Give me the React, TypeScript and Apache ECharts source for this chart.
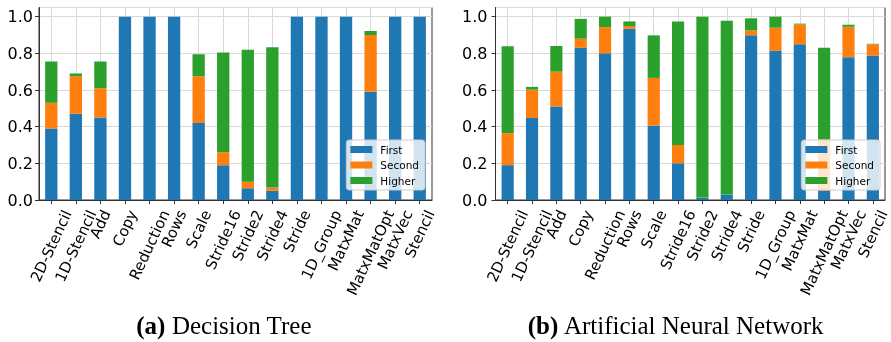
import React, { useEffect, useRef } from 'react';
import * as echarts from 'echarts';

const categories = [
  '2D-Stencil', '1D-Stencil', 'Add', 'Copy', 'Reduction', 'Rows', 'Scale', 'Stride16',
  'Stride2', 'Stride4', 'Stride', '1D_Group', 'MatxMat', 'MatxMatOpt', 'MatxVec', 'Stencil',
];
const seriesNames = ['First', 'Second', 'Higher'];

// (a) Decision Tree
const dtFirst = [0.39, 0.47, 0.45, 1, 1, 1, 0.42, 0.19, 0.064, 0.05, 1, 1, 1, 0.59, 1, 1];
const dtSecond = [0.14, 0.205, 0.16, 0, 0, 0, 0.255, 0.07, 0.036, 0.018, 0, 0, 0, 0.31, 0, 0];
const dtHigher = [0.225, 0.015, 0.145, 0, 0, 0, 0.12, 0.545, 0.72, 0.765, 0, 0, 0, 0.022, 0, 0];

// (b) Artificial Neural Network
const annFirst = [0.19, 0.447, 0.51, 0.83, 0.8, 0.934, 0.405, 0.2, 0.013, 0.03, 0.898, 0.815, 0.849, 0.05, 0.779, 0.788];
const annSecond = [0.175, 0.155, 0.19, 0.05, 0.143, 0.015, 0.261, 0.1, 0, 0, 0.027, 0.125, 0.109, 0.28, 0.166, 0.061];
const annHigher = [0.474, 0.015, 0.14, 0.108, 0.057, 0.025, 0.232, 0.673, 0.987, 0.948, 0.066, 0.06, 0.004, 0.5, 0.011, 0.003];

const yTickInterval = 0.2;
const yMax = 1.05;

const captionA = { tag: '(a)', text: 'Decision Tree' };
const captionB = { tag: '(b)', text: 'Artificial Neural Network' };

const COLORS = ['#1f77b4', '#ff7f0e', '#2ca02c'];
const ROT = 65;
const XFONT = 15;
const SANS = '"DejaVu Sans", sans-serif';
const SERIF = '"Liberation Serif", serif';

function measure(text: string, size: number): number {
  const cv = document.createElement('canvas');
  const ctx = cv.getContext('2d');
  if (!ctx) return text.length * size * 0.6;
  ctx.font = `${size}px "DejaVu Sans"`;
  return ctx.measureText(text).width;
}

export default function App() {
  const ref = useRef<HTMLDivElement>(null);

  useEffect(() => {
    if (!ref.current) return;
    const chart = echarts.init(ref.current, null, { renderer: 'svg' });
    const rad = (ROT * Math.PI) / 180;

    const grids = [
      { left: 39, right: 459, top: 7.5, bottom: 142 },
      { left: 495.5, right: 6, top: 7.5, bottom: 142 },
    ];

    const xAxes = grids.map((_, gi) => ({
      type: 'category',
      gridIndex: gi,
      data: categories,
      axisLine: { show: true, lineStyle: { color: '#333', width: 1 } },
      axisTick: { show: true, alignWithLabel: true, length: 4, lineStyle: { color: '#333' } },
      splitLine: { show: true, alignWithLabel: true, lineStyle: { color: '#d9d9d9', width: 1 } },
      axisLabel: { show: false, interval: 0 },
    }));

    const yAxes = grids.map((_, gi) => ({
      type: 'value',
      gridIndex: gi,
      min: 0,
      max: yMax,
      interval: yTickInterval,
      axisLine: { show: true, lineStyle: { color: '#333', width: 1 } },
      axisTick: { show: true, length: 4, lineStyle: { color: '#333' } },
      splitLine: { show: true, lineStyle: { color: '#d9d9d9', width: 1 } },
      axisLabel: {
        showMaxLabel: false,
        margin: gi === 0 ? 6 : 8,
        fontFamily: SANS,
        fontSize: 16,
        color: '#000',
        formatter: (v: number) => v.toFixed(1),
      },
    }));

    const sets = [
      [dtFirst, dtSecond, dtHigher],
      [annFirst, annSecond, annHigher],
    ];
    const series: any[] = [];
    sets.forEach((set, gi) => {
      set.forEach((data, si) => {
        series.push({
          type: 'bar',
          name: seriesNames[si],
          xAxisIndex: gi,
          yAxisIndex: gi,
          stack: 'g' + gi,
          barWidth: '50%',
          itemStyle: { color: COLORS[si] },
          data,
        });
      });
    });

    const legendBase = {
      orient: 'vertical',
      top: 140,
      icon: 'rect',
      itemWidth: 22,
      itemHeight: 7,
      itemGap: 4.5,
      padding: [4, 6, 4, 4],
      backgroundColor: 'rgba(255,255,255,0.8)',
      borderColor: '#cccccc',
      borderWidth: 1,
      borderRadius: 3,
      data: seriesNames,
      formatter: (n: string) => `{t|${n}}`,
      textStyle: {
        fontFamily: SANS,
        fontSize: 10.5,
        color: '#000',
        rich: { t: { fontFamily: SANS, fontSize: 10.5, color: '#000', lineHeight: 12, padding: [0, 0, 0, 3] } },
      },
    };

    const captionStyle = (cap: { tag: string; text: string }) => ({
      text: `{b|${cap.tag}}{n| ${cap.text}}`,
      align: 'center',
      verticalAlign: 'middle',
      rich: {
        b: { fontFamily: SERIF, fontSize: 25, fontWeight: 'bold', fill: '#000', color: '#000' },
        n: { fontFamily: SERIF, fontSize: 25, fill: '#000', color: '#000' },
      },
      fill: '#000',
    });

    chart.setOption({
      animation: false,
      grid: grids.map((g) => ({
        ...g,
        show: true,
        borderColor: '#333',
        borderWidth: 1,
        backgroundColor: 'transparent',
        containLabel: false,
        outerBoundsMode: 'none',
      })),
      xAxis: xAxes,
      yAxis: yAxes,
      legend: [
        { ...legendBase, right: 466 },
        { ...legendBase, right: 11 },
      ],
      series,
    });

    // x tick labels, placed from the axes' own scales (matplotlib-style centred rotated labels)
    const graphics: any[] = [];
    grids.forEach((_, gi) => {
      const axisY = chart.convertToPixel({ yAxisIndex: gi } as any, 0) as unknown as number;
      categories.forEach((cat) => {
        const tx = chart.convertToPixel({ xAxisIndex: gi } as any, cat) as unknown as number;
        const L = measure(cat, XFONT);
        graphics.push({
          type: 'text',
          x: tx,
          y: axisY + 11 + (L * Math.sin(rad)) / 2,
          rotation: rad,
          style: {
            text: cat,
            fontFamily: SANS,
            fontSize: XFONT,
            fill: '#000',
            align: 'center',
            verticalAlign: 'middle',
          },
        });
      });
    });
    graphics.push({ type: 'text', x: 224, y: 325, style: captionStyle(captionA) });
    graphics.push({ type: 'text', x: 676, y: 325, style: captionStyle(captionB) });
    chart.setOption({ graphic: graphics });

    return () => chart.dispose();
  }, []);

  return <div ref={ref} style={{ position: 'fixed', left: 0, top: 0, width: 891, height: 342 }} />;
}
